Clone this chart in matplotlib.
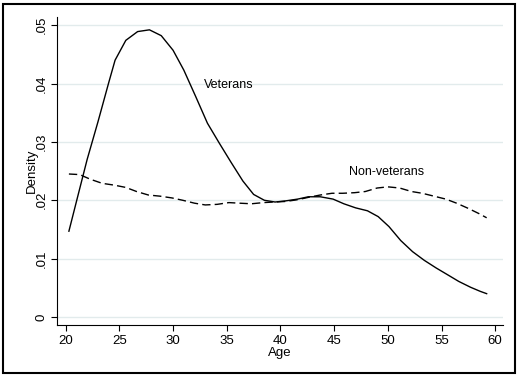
import matplotlib.pyplot as plt
from matplotlib.patches import Rectangle

plt.rcParams['font.family'] = ['Liberation Sans', 'DejaVu Sans']

# Kernel density of age
vet_age = [20.3, 21.1, 22.0, 23.0, 24.0, 24.6, 25.6, 26.7, 27.8, 28.9, 30.0, 31.0,
           32.1, 33.2, 34.3, 35.4, 36.5, 37.5, 38.5, 39.5, 40.5, 41.6, 42.6, 43.7,
           44.9, 45.9, 47.0, 48.1, 49.1, 50.1, 51.2, 52.3, 53.4, 54.5, 55.6, 56.6,
           57.7, 58.6, 59.2]
vet_dens = [0.0147, 0.0205, 0.0270, 0.0334, 0.0401, 0.0440, 0.0474, 0.0489, 0.0492,
            0.0482, 0.0457, 0.0423, 0.0378, 0.0332, 0.0298, 0.0265, 0.0233, 0.0210,
            0.0200, 0.0197, 0.0199, 0.0202, 0.0206, 0.0206, 0.0202, 0.0194, 0.0187,
            0.0182, 0.0172, 0.0155, 0.0131, 0.0112, 0.0097, 0.0084, 0.0072, 0.0061,
            0.0051, 0.0044, 0.0040]

non_age = [20.3, 21.3, 22.3, 23.4, 24.5, 25.6, 26.6, 27.7, 28.8, 29.9, 30.9, 32.0,
           33.0, 34.1, 35.2, 36.2, 37.3, 38.4, 39.4, 40.5, 41.6, 42.6, 43.7, 44.8,
           45.8, 46.9, 47.9, 49.0, 50.0, 51.1, 52.2, 53.2, 54.3, 55.4, 56.4, 57.5,
           58.5, 59.2]
non_dens = [0.0245, 0.0244, 0.0236, 0.0229, 0.0226, 0.0222, 0.0215, 0.0209, 0.0207,
            0.0204, 0.0200, 0.0195, 0.0192, 0.0193, 0.0196, 0.0195, 0.0194, 0.0196,
            0.0197, 0.0198, 0.0201, 0.0205, 0.0209, 0.0212, 0.0212, 0.0213, 0.0215,
            0.0221, 0.0223, 0.0221, 0.0215, 0.0212, 0.0207, 0.0202, 0.0195, 0.0186,
            0.0177, 0.0170]

x_ticks = [20, 25, 30, 35, 40, 45, 50, 55, 60]
y_ticks = [0, 0.01, 0.02, 0.03, 0.04, 0.05]
y_labels = ['0', '.01', '.02', '.03', '.04', '.05']

fig = plt.figure(figsize=(5.18, 3.75), dpi=100)
ax = fig.add_axes([0.110, 0.1333, 0.861, 0.8214])

ax.plot(vet_age, vet_dens, color='black', lw=1.0)
ax.plot(non_age, non_dens, color='black', lw=1.0, linestyle=(0, (6, 3)))

ax.text(32.9, 0.0397, 'Veterans', fontsize=9, va='center')
ax.text(46.4, 0.0249, 'Non-veterans', fontsize=9, va='center')

ax.set_xlim(19.19, 60.72)
ax.set_ylim(-0.00137, 0.0514)
ax.set_xticks(x_ticks)
ax.set_yticks(y_ticks)
ax.set_yticklabels(y_labels, rotation=90, va='center')
ax.tick_params(labelsize=9.5, length=4, width=0.8, pad=3)
ax.grid(axis='y', color='#e2ebec', lw=1.0)
ax.set_axisbelow(True)
for s in ['top', 'right']:
    ax.spines[s].set_visible(False)
ax.set_xlabel('Age', fontsize=9.5, labelpad=0)
ax.set_ylabel('Density', fontsize=9.5, labelpad=-2)

# border round the whole graph
fig.patches.append(Rectangle((0.006, 0.006), 0.989, 0.983, transform=fig.transFigure,
                             fill=False, edgecolor='black', lw=1.5))

fig.savefig('out.png', dpi=100)
